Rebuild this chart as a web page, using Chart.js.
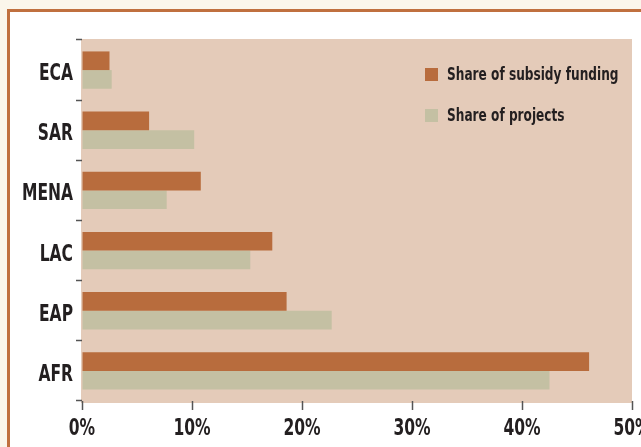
<!DOCTYPE html>
<html>
<head>
<meta charset="utf-8">
<script src="https://cdn.jsdelivr.net/npm/chart.js@4.4.1/dist/chart.umd.min.js"></script>
<style>
  html, body { margin: 0; padding: 0; background: #fbf6eb; overflow: hidden; }
  #frame { position: absolute; left: 7px; top: 9px; width: 660px; height: 460px; background: #fff;
           border-top: 3px solid #c0703f; border-left: 3px solid #c0703f; }
  #chart { position: absolute; left: 0; top: 0; }
</style>
</head>
<body>
<div id="frame"></div>
<canvas id="chart" width="641" height="447"></canvas>
<script>
// regions, top to bottom
const regions = ['ECA', 'SAR', 'MENA', 'LAC', 'EAP', 'AFR'];
// percent of total
const subsidyShare = [2.5, 6.1, 10.8, 17.3, 18.6, 46.1];
const projectShare = [2.7, 10.2, 7.7, 15.3, 22.7, 42.5];
const xTicks = [0, 10, 20, 30, 40, 50];

const FONT = "'DejaVu Sans Condensed', 'Liberation Sans', sans-serif";
const INK = '#231f20';
const SQUEEZE = 0.75; // horizontal squeeze to get a narrow face

Chart.defaults.font.family = FONT;
Chart.defaults.font.weight = 'bold';
Chart.defaults.color = INK;

// squeeze all canvas text while the chart draws
const narrowText = {
  id: 'narrowText',
  beforeDraw(chart) {
    const ctx = chart.ctx;
    const fill = CanvasRenderingContext2D.prototype.fillText;
    ctx.fillText = function (t, x, y, w) {
      const mw = this.measureText(t).width * SQUEEZE;
      return fill.call(this, t, x, y, w !== undefined ? Math.min(w, mw) : mw);
    };
  },
  afterDraw(chart) {
    delete chart.ctx.fillText;
  }
};

// tan panel behind the bars
const plotBg = {
  id: 'plotBg',
  beforeDraw(chart) {
    const { ctx, chartArea: a } = chart;
    ctx.save();
    ctx.fillStyle = '#e4cbb9';
    ctx.fillRect(a.left - 1, a.top - 1, a.right - a.left + 1, a.bottom - a.top + 3);
    ctx.restore();
  }
};

// legend sits inside the plot, upper right
const innerLegend = {
  id: 'innerLegend',
  afterDatasetsDraw(chart) {
    const { ctx, chartArea: a } = chart;
    const x = a.right - 207;
    ctx.save();
    ctx.font = 'bold 18px ' + FONT;
    ctx.textBaseline = 'middle';
    ctx.textAlign = 'left';
    chart.data.datasets.forEach((ds, i) => {
      const y = a.top + 34.5 + i * 41;
      ctx.fillStyle = ds.backgroundColor;
      ctx.fillRect(x, y - 6.5, 13, 13);
      ctx.fillStyle = INK;
      ctx.fillText(ds.label, x + 22, y + 1);
    });
    ctx.restore();
  }
};

new Chart(document.getElementById('chart'), {
  type: 'bar',
  data: {
    labels: regions,
    datasets: [
      { label: 'Share of subsidy funding', data: subsidyShare, backgroundColor: '#b86c3d',
        categoryPercentage: 0.62, barPercentage: 1.0 },
      { label: 'Share of projects', data: projectShare, backgroundColor: '#c4c0a3',
        categoryPercentage: 0.62, barPercentage: 1.0 }
    ]
  },
  options: {
    indexAxis: 'y',
    responsive: false,
    animation: false,
    devicePixelRatio: 1,
    layout: { padding: { top: 40, right: 9, left: 0, bottom: 0 } },
    plugins: { legend: { display: false }, tooltip: { enabled: false } },
    scales: {
      x: {
        min: 0, max: 50,
        afterBuildTicks: s => { s.ticks = xTicks.map(v => ({ value: v })); },
        afterFit: s => { s.height = 46; s.paddingLeft = 0; s.paddingRight = 0; },
        grid: { drawOnChartArea: false, drawTicks: true, tickLength: 9, tickColor: '#555', tickWidth: 1.5 },
        border: { display: false },
        ticks: { padding: 5, font: { size: 23, weight: 'bold' }, color: INK,
                 maxRotation: 0, autoSkip: false, callback: v => v + '%' }
      },
      y: {
        afterFit: s => { s.width = 82; s.paddingTop = 0; s.paddingBottom = 0; },
        grid: { drawOnChartArea: false, drawTicks: true, tickLength: 6, tickColor: '#555', tickWidth: 1.5, offset: true },
        border: { display: false },
        ticks: { padding: 3, labelOffset: 4, font: { size: 23, weight: 'bold' }, color: INK }
      }
    }
  },
  plugins: [narrowText, plotBg, innerLegend]
});
</script>
</body>
</html>
